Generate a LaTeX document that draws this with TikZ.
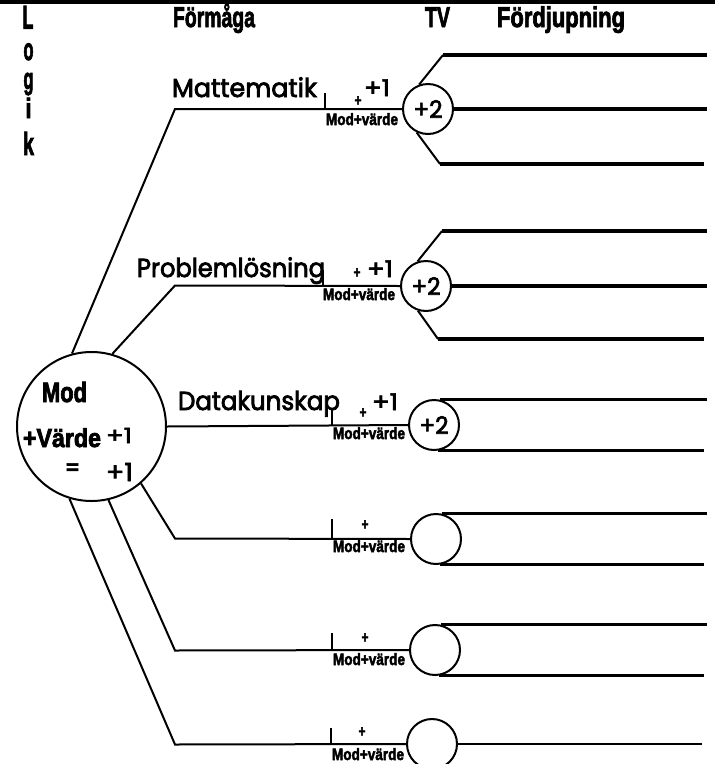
\documentclass[tikz,border=0pt]{standalone}
\usepackage{fontspec}
\usepackage{graphicx}
\newfontfamily\impf{Liberation Sans}[BoldFeatures={FakeBold=3}]
\newfontfamily\comicf{Poppins}[FakeBold=3]
% condensed heavy lettering: size sets the height, the box is squeezed to a width
\newcommand\imptext[3]{\resizebox{#2}{\height}{\fontsize{#1}{#1}\selectfont\impf\bfseries #3}}
% rounded hand lettering
\newcommand\comictext[3]{\resizebox{#2}{\height}{\fontsize{#1}{#1}\selectfont\comicf #3}}
\begin{document}
\begin{tikzpicture}[x=1pt,y=-1pt,
  txt/.style={inner sep=0pt,outer sep=0pt},
  stem/.style={line width=2pt},
  rule/.style={line width=3.3pt},
  ring/.style={circle,draw,line width=2pt,inner sep=0pt,minimum size=50pt},
  hub/.style={circle,draw,line width=2pt,inner sep=0pt,minimum size=149pt}]
\useasboundingbox (0,0) rectangle (715,764);
% top rule
\fill (0,0) rectangle (715,3.5);

% column heads
\node[txt,anchor=base west] (hForm) at (173,27) {\imptext{28.5}{82pt}{Förmåga}};
\node[txt,anchor=base west] (hTV)   at (425,27) {\imptext{28.5}{25pt}{TV}};
\node[txt,anchor=base west] (hFord) at (497,27) {\imptext{28.5}{128pt}{Fördjupning}};

% vertical word
\node[txt,anchor=base] (lL) at (28,28.5)  {\imptext{33}{11pt}{L}};
\node[txt,anchor=base] (lo) at (28.5,60)  {\imptext{31}{10pt}{o}};
\node[txt,anchor=base] (lg) at (28.5,89)  {\imptext{30}{10pt}{g}};
\node[txt,anchor=base] (li) at (28.5,118) {\imptext{28}{6pt}{i}};
\node[txt,anchor=base] (lk) at (28.5,155) {\imptext{32}{11pt}{k}};

% central hub
\node[hub] (main) at (91.5,426.5) {};
\node[txt,anchor=base west] (hMod) at (42,402)  {\imptext{28}{45pt}{Mod}};
\node[txt,anchor=base west] (hVal) at (23,447)  {\imptext{26}{78pt}{+Värde}};
\node[txt,anchor=base west] (hP1)  at (106,443) {\comictext{21}{26pt}{+1}};
\node[txt] (hEq) at (72.5,468.5) {\imptext{20}{13pt}{=}};
\node[txt,anchor=base west] (hP2)  at (106,481) {\comictext{25}{27pt}{+1}};

% value circles
\node[ring] (r1) at (428,109) {\comictext{24}{29pt}{+2}};
\node[ring] (r2) at (426,286) {\comictext{24}{29pt}{+2}};
\node[ring] (r3) at (434,425) {\comictext{24}{29pt}{+2}};
\node[ring] (r4) at (436,539) {};
\node[ring] (r5) at (435,650) {};
\node[ring] (r6) at (432,744) {};

% branch corners
\coordinate (k1) at (175,109);
\coordinate (k2) at (175,285.5);
\coordinate (k4) at (175,538.5);
\coordinate (k5) at (175,650.5);
\coordinate (k6) at (175,744.5);

\draw[stem] (main.105) -- (k1) -- (r1.west);
\draw[stem] (main.74)  -- (k2) -- (r2.west);
\draw[stem] (main.0)   -- (r3.west);
\draw[stem] (main.-49) -- (k4) -- (r4.west);
\draw[stem] (main.-77) -- (k5) -- (r5.west);
\draw[stem] (main.-107) -- (k6) -- (r6.west);

% branch labels
\node[txt,anchor=base west] (lMat)  at (172,97)  {\comictext{26}{145pt}{Mattematik}};
\node[txt,anchor=base west] (lProb) at (137,277) {\comictext{26}{188pt}{Problemlösning}};
\node[txt,anchor=base west] (lData) at (178,410) {\comictext{26}{162pt}{Datakunskap}};

% ticks
\foreach \n/\x/\ya/\yb in {1/325/93/109, 2/323/270/285, 3/332/410/425, 4/332/519/538, 5/332/633/650, 6/331/728/744}{
  \coordinate (ta\n) at (\x,\ya);
  \coordinate (tb\n) at (\x,\yb);
  \draw[stem] (ta\n) -- (tb\n);
}

% small plus signs, +1 marks and Mod+värde captions
\foreach \n/\px/\py/\mx/\my in {1/358/101/326/125, 2/357/273/323/300, 3/363/413/333/439, 4/365/525/333/552, 5/365/638/333/665, 6/362/732/332/760}{
  \node[txt] (pl\n) at (\px,\py) {\imptext{16}{7pt}{+}};
  \node[txt,anchor=base west] (mv\n) at (\mx,\my) {\imptext{16.5}{72pt}{Mod+värde}};
}
\node[txt,anchor=base west] (one1) at (364,96)  {\comictext{23}{26pt}{+1}};
\node[txt,anchor=base west] (one2) at (367,277) {\comictext{23}{26pt}{+1}};
\node[txt,anchor=base west] (one3) at (372,410) {\comictext{23}{26pt}{+1}};

% depth lines
\coordinate (ex) at (707,0);
\coordinate (ey) at (704,0);
\coordinate (r1t) at (443,55);
\coordinate (r1b) at (440,164);
\coordinate (r2t) at (442,231);
\coordinate (r2b) at (438,339);
\draw[stem] (r1.110) -- (r1t);
\draw[stem] (r1.244) -- (r1b);
\draw[rule] (r1t) -- (r1t -| ex);
\draw[rule] (r1.east) -- (r1.east -| ex);
\draw[rule] (r1b) -- (r1b -| ey);
\draw[stem] (r2.109) -- (r2t);
\draw[stem] (r2.252) -- (r2b);
\draw[rule] (r2t) -- (r2t -| ex);
\draw[rule] (r2.east) -- (r2.east -| ex);
\draw[rule] (r2b) -- (r2b -| ey);
\foreach \r in {r3,r4,r5}{
  \draw[rule] (\r.77) -- (\r.77 -| ex);
  \draw[rule] (\r.-82) -- (\r.-82 -| ey);
}
\coordinate (ez) at (702,0);
\draw[stem] (r6.east) -- (r6.east -| ez);
\end{tikzpicture}
\end{document}
